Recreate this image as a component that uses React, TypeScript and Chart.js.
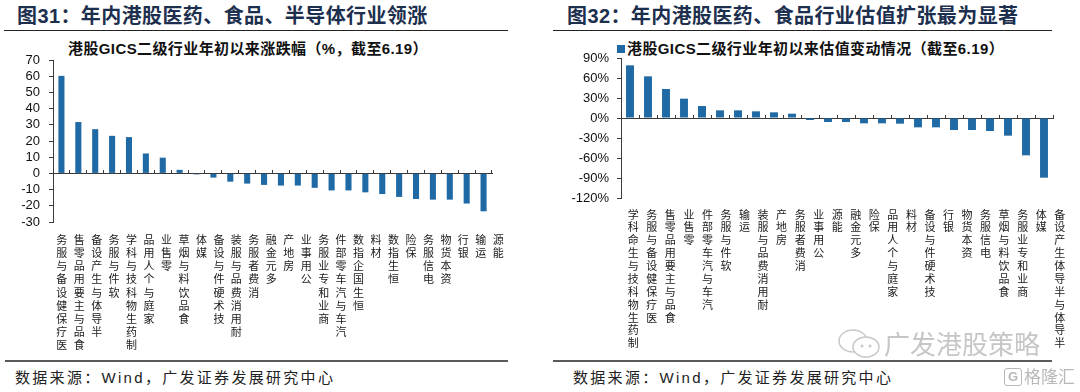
import React, { useEffect, useRef } from 'react';
import { Chart, registerables } from 'chart.js';

Chart.register(...registerables);

// ---- Data ----
const leftCategories = [
  '医疗保健设备与服务', '食品与主要用品零售', '半导体与生产设备', '软件与服务', '制药生物科技与科学',
  '家庭与个人用品', '零售业', '食品饮料与烟草', '媒体', '技术硬件与设备', '耐用消费品与服装',
  '消费者服务', '多元金融', '房地产', '公用事业', '商业和专业服务', '汽车与汽车零部件',
  '恒生国企指数', '材料', '恒生指数', '保险', '电信服务', '资本货物', '银行', '运输', '能源',
];
const leftValues = [
  60.2, 31.7, 27.3, 23.2, 22.4, 12.3, 9.7, 2.2, -0.6, -2.6, -5.1, -6.3, -7.1,
  -7.5, -7.5, -8.9, -10.5, -10.5, -11.7, -12.7, -14.5, -15.8, -16.2, -16.2, -18.6, -23.4,
];
const leftTickRange = [-30, 70, 10]; // min, max, step

const rightCategories = [
  '制药生物科技与生命科学', '医疗保健设备与服务', '食品与主要用品零售', '零售业', '汽车与汽车零部件',
  '软件与服务', '运输', '耐用消费品与服装', '房地产', '消费者服务', '公用事业', '能源', '多元金融',
  '保险', '家庭与个人用品', '材料', '技术硬件与设备', '银行', '资本货物', '电信服务',
  '食品饮料与烟草', '商业和专业服务', '媒体', '半导体与半导体生产设备',
];
const rightValues = [
  79, 62.5, 43.5, 29, 18, 11.5, 11.5, 10, 8.5, 6.5, -3, -6, -6, -8, -8, -8.5,
  -14, -14, -18, -18, -19.5, -26.5, -56, -89.5,
];
const rightTickRange = [-120, 90, 30];

// ---- Style ----
const BAR = '#1F69A5';
const AXIS = '#3a3a3a';
const CJK = '"Noto Sans CJK SC", "Noto Sans", sans-serif';
const MIX = '"Liberation Sans", "Noto Sans CJK SC", sans-serif';

const stack = (s: string) => Array.from(s).reverse();

// Widens the span of the label axis (Excel spreads the stacked labels a bit wider than the bars)
const labelSpanPlugin = {
  id: 'labelSpan',
  afterLayout(chart: any, _args: any, opts: any) {
    const s = chart.scales.x2;
    if (!s || opts == null || opts.extraRight == null) return;
    s.left = chart.chartArea.left + (opts.extraLeft || 0);
    s.right = chart.chartArea.right + opts.extraRight;
    s.width = s.right - s.left;
    s.configure();
    s._labelItems = null;
  },
};

type Cfg = {
  labels: string[];
  values: number[];
  range: number[];
  yWidth: number;
  padTop: number;
  padRight: number;
  labelAxisHeight: number;
  labelPad: number;
  lineHeight: number;
  barPct: number;
  yPad: number;
  pct: boolean;
  extraLeft: number;
  extraRight: number;
};

function build(canvas: HTMLCanvasElement, c: Cfg) {
  return new Chart(canvas, {
    type: 'bar',
    data: {
      labels: c.labels.map(stack),
      datasets: [
        {
          data: c.values,
          backgroundColor: BAR,
          borderWidth: 0,
          barPercentage: c.barPct,
          categoryPercentage: 1,
          xAxisID: 'x',
          yAxisID: 'y',
        },
      ],
    },
    plugins: [labelSpanPlugin],
    options: {
      responsive: false,
      maintainAspectRatio: false,
      animation: false,
      events: [],
      layout: { padding: { left: 0, right: c.padRight, top: c.padTop, bottom: 0 } },
      plugins: {
        legend: { display: false },
        tooltip: { enabled: false },
        title: { display: false },
        labelSpan: { extraLeft: c.extraLeft, extraRight: c.extraRight },
      },
      scales: {
        x: {
          type: 'category',
          axis: 'x',
          position: { y: 0 },
          offset: true,
          grid: {
            display: true,
            drawOnChartArea: false,
            offset: true,
            drawTicks: true,
            tickLength: -4,
            color: AXIS,
            lineWidth: 1,
          },
          border: { display: true, color: AXIS, width: 1 },
          ticks: { display: false },
        },
        x2: {
          type: 'category',
          axis: 'x',
          position: 'bottom',
          offset: true,
          grid: { display: false, drawTicks: false },
          border: { display: false },
          ticks: {
            autoSkip: false,
            maxRotation: 0,
            minRotation: 0,
            padding: c.labelPad,
            color: '#1a1a1a',
            font: { family: CJK, size: 11, lineHeight: c.lineHeight },
          },
          afterFit: (s: any) => {
            s.height = c.labelAxisHeight;
          },
        },
        y: {
          type: 'linear',
          position: 'left',
          min: c.range[0],
          max: c.range[1],
          ticks: {
            stepSize: c.range[2],
            autoSkip: false,
            padding: c.yPad,
            color: '#111',
            font: { family: '"Liberation Sans", Arial, sans-serif', size: 13 },
            callback: (v: any) => (c.pct ? `${v}%` : `${v}`),
          },
          grid: { drawOnChartArea: false, drawTicks: true, tickLength: 4, color: AXIS },
          border: { display: true, color: AXIS, width: 1 },
          afterFit: (s: any) => {
            s.width = c.yWidth;
          },
        },
      },
    } as any,
  });
}

function Panel({ x, cfg }: { x: number; cfg: Cfg }) {
  const ref = useRef<HTMLCanvasElement>(null);
  useEffect(() => {
    if (!ref.current) return;
    const ch = build(ref.current, cfg);
    return () => ch.destroy();
  }, []);
  return (
    <canvas
      ref={ref}
      width={540}
      height={320}
      style={{ position: 'absolute', left: x, top: 36, width: 540, height: 320 }}
    />
  );
}

const abs = (o: React.CSSProperties): React.CSSProperties => ({
  position: 'absolute',
  whiteSpace: 'nowrap',
  ...o,
});

export default function App() {
  const leftCfg: Cfg = {
    labels: leftCategories,
    values: leftValues,
    range: leftTickRange,
    yWidth: 53,
    padTop: 24,
    padRight: 48,
    labelAxisHeight: 134,
    labelPad: 11,
    lineHeight: 1.2,
    barPct: 0.36,
    yPad: 9,
    pct: false,
    extraLeft: 0,
    extraRight: 15,
  };
  const rightCfg: Cfg = {
    labels: rightCategories,
    values: rightValues,
    range: rightTickRange,
    yWidth: 81,
    padTop: 22,
    padRight: 27,
    labelAxisHeight: 158,
    labelPad: 10,
    lineHeight: 1.17,
    barPct: 0.44,
    yPad: 8,
    pct: true,
    extraLeft: 3,
    extraRight: 16,
  };
  const titleStyle: React.CSSProperties = {
    fontSize: 20,
    fontWeight: 'bold',
    color: '#1D2F4E',
    fontFamily: MIX,
    lineHeight: '24px',
    letterSpacing: 0.4,
  };
  const subStyle: React.CSSProperties = {
    fontSize: 15,
    fontWeight: 'bold',
    color: '#111',
    fontFamily: MIX,
    lineHeight: '18px',
    letterSpacing: 0.4,
  };
  const srcStyle: React.CSSProperties = {
    fontSize: 15,
    color: '#222',
    fontFamily: MIX,
    lineHeight: '18px',
    letterSpacing: 2.3,
  };
  return (
    <div
      style={{
        position: 'absolute',
        left: 0,
        top: 0,
        width: 1080,
        height: 392,
        background: '#fff',
        overflow: 'hidden',
        fontFamily: MIX,
      }}
    >
      {/* Left panel */}
      <div style={abs({ left: 17, top: 4, ...titleStyle })}>图31：年内港股医药、食品、半导体行业领涨</div>
      <div style={abs({ left: 4, top: 30, width: 504, height: 1, background: '#222' })} />
      <div style={abs({ left: 68, top: 40, ...subStyle })}>港股GICS二级行业年初以来涨跌幅（%，截至6.19）</div>
      <Panel x={0} cfg={leftCfg} />
      <div style={abs({ left: 5, top: 360, width: 503, height: 2, background: '#5a5a5a' })} />
      <div style={abs({ left: 15, top: 369, ...srcStyle })}>数据来源：Wind，广发证券发展研究中心</div>

      {/* Right panel */}
      <div style={abs({ left: 567, top: 4, ...titleStyle })}>图32：年内港股医药、食品行业估值扩张最为显著</div>
      <div style={abs({ left: 553, top: 30, width: 499, height: 1, background: '#222' })} />
      <div style={abs({ left: 617, top: 45, width: 8, height: 8, background: BAR })} />
      <div style={abs({ left: 627, top: 40, ...subStyle })}>港股GICS二级行业年初以来估值变动情况（截至6.19）</div>
      <Panel x={540} cfg={rightCfg} />
      <div style={abs({ left: 553, top: 360, width: 499, height: 2, background: '#5a5a5a' })} />
      <div style={abs({ left: 573, top: 369, ...srcStyle })}>数据来源：Wind，广发证券发展研究中心</div>

      {/* Watermarks */}
      <svg style={abs({ left: 836, top: 328 })} width={46} height={32}>
        <ellipse cx={17} cy={13} rx={14} ry={11} fill="none" stroke="#c8c8c8" strokeWidth={1.5} />
        <ellipse cx={30} cy={19} rx={13} ry={10} fill="#fff" stroke="#c8c8c8" strokeWidth={1.5} />
        <circle cx={26} cy={18} r={1.5} fill="#c8c8c8" />
        <circle cx={34} cy={18} r={1.5} fill="#c8c8c8" />
      </svg>
      <div style={abs({ left: 884, top: 328, fontSize: 26, lineHeight: '30px', color: '#c6c6c6', fontFamily: CJK })}>
        广发港股策略
      </div>
      <div
        style={abs({
          left: 1004,
          top: 368,
          width: 16,
          height: 16,
          border: '1.5px solid #b8b8b8',
          borderRadius: 3,
          color: '#b8b8b8',
          fontSize: 13,
          lineHeight: '16px',
          textAlign: 'center',
          fontWeight: 'bold',
          fontFamily: MIX,
        })}
      >
        G
      </div>
      <div style={abs({ left: 1024, top: 366, fontSize: 17, lineHeight: '20px', color: '#b8b8b8', fontFamily: CJK })}>
        格隆汇
      </div>
    </div>
  );
}
